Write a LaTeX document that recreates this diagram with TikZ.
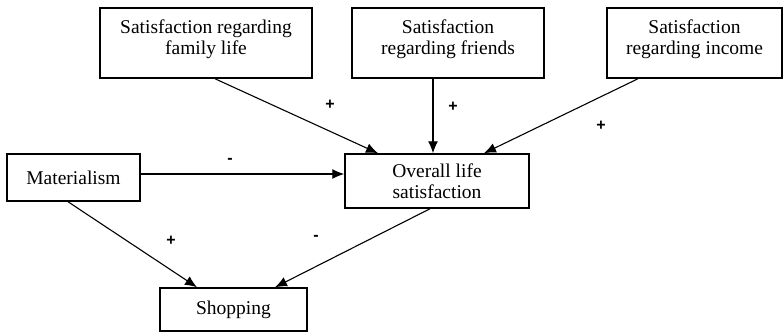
\documentclass[tikz,border=0pt]{standalone}
\usepackage{fontspec}
\setmainfont{Liberation Serif}
\newfontfamily\signfont{Liberation Sans}
\usetikzlibrary{arrows.meta,calc}
\tikzset{
	varbox/.style={draw, line width=1.5pt, align=center, inner sep=0pt, font=\fontsize{19.5}{21}\selectfont},
	link/.style={->, line width=1.1pt},
	sign/.style={font=\signfont\bfseries\fontsize{16}{16}\selectfont}
}

\begin{document}
\begin{tikzpicture}[x=1pt, y=-1pt, >={Latex[length=12pt,width=10pt]}]
			\useasboundingbox (0,0) rectangle (784,332);

			% The three satisfaction domains on top
			\node[varbox, minimum width=212pt, minimum height=70pt] (family) at (206,43) {Satisfaction regarding\\family life\\[-9pt]};
			\node[varbox, minimum width=192pt, minimum height=70pt] (friends) at (448,43) {Satisfaction\\regarding friends\\[-9pt]};
			\node[varbox, minimum width=175pt, minimum height=70pt] (income) at (694.5,43) {Satisfaction\\regarding income\\[-9pt]};

			% Middle row and the outcome
			\node[varbox, minimum width=133pt, minimum height=47pt] (materialism) at (73.5,177.5) {Materialism};
			\node[varbox, minimum width=184pt, minimum height=54pt] (overall) at (437,181) {Overall life\\satisfaction};
			\node[varbox, minimum width=147pt, minimum height=43pt] (shopping) at (233.5,309.5) {Shopping};

			% Paths into overall life satisfaction
			\draw[link] ($(family.south)+(9,0)$) -- ($(overall.north)+(-59,0)$);
			\draw[link] ($(friends.south)+(-15,0)$) -- ($(overall.north)+(-4,0)$);
			\draw[link] ($(income.south)+(-56.5,0)$) -- ($(overall.north)+(47,0)$);
			\draw[link] ($(materialism.east)+(0,-3.5)$) coordinate (matout) -- (overall.west |- matout);

			% Paths into shopping
			\draw[link] ($(materialism.south)+(-5.5,0)$) -- ($(shopping.north)+(-36.5,0)$);
			\draw[link] ($(overall.south)+(-7,0)$) -- ($(shopping.north)+(41.5,0)$);

			% Signs of the paths
			\node[sign] (s1) at (330,105) {+};
			\node[sign] (s2) at (453,107) {+};
			\node[sign] (s3) at (601,126) {+};
			\node[sign] (s4) at (230,161) {-};
			\node[sign] (s5) at (171,241) {+};
			\node[sign] (s6) at (316,238) {-};
\end{tikzpicture}
\end{document}
